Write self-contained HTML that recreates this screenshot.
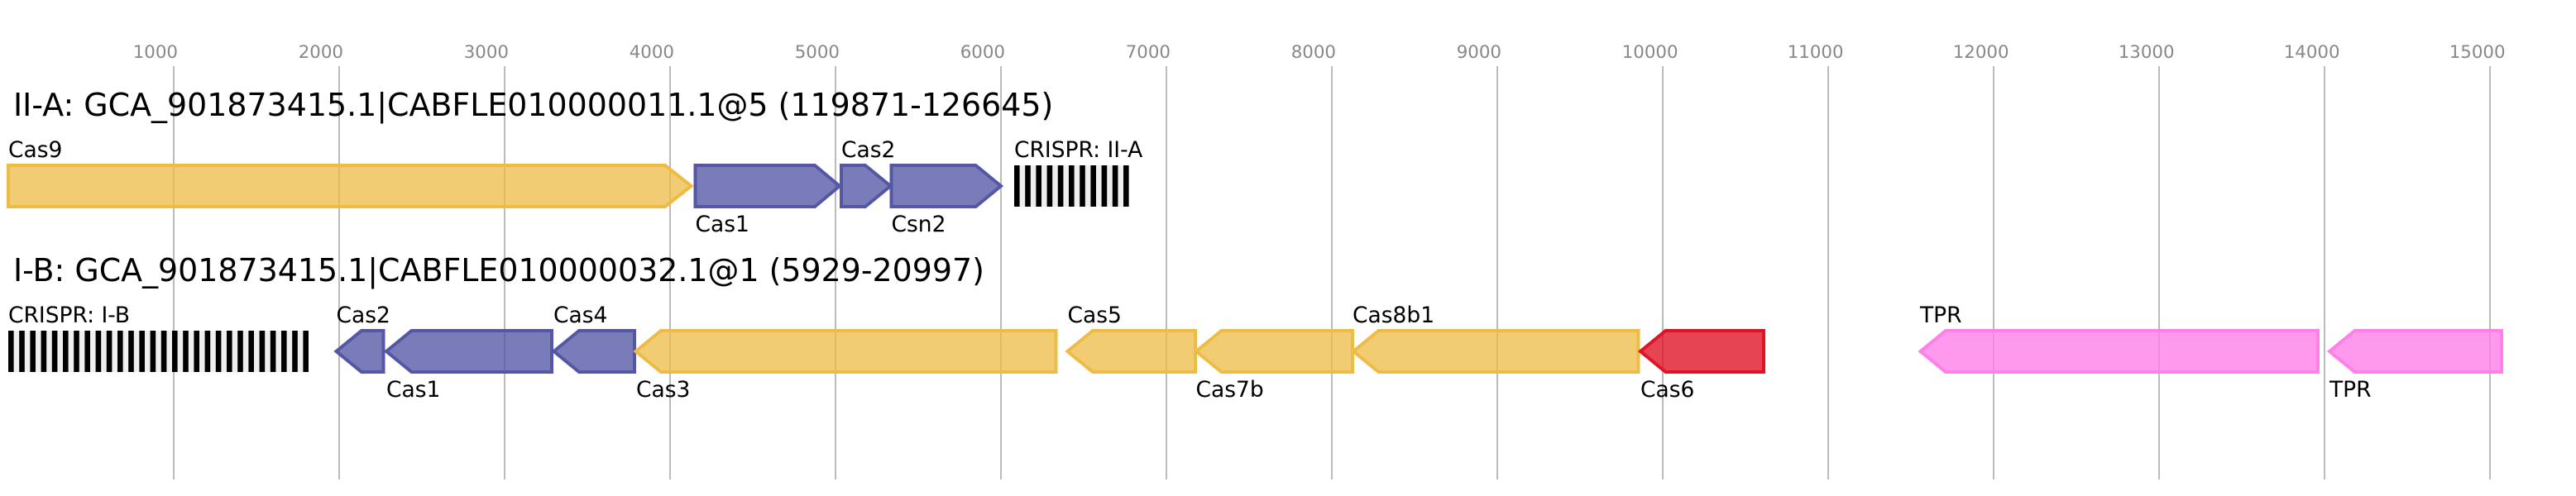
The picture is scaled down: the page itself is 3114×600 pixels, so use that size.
<!DOCTYPE html>
<html>
<head>
<meta charset="utf-8">
<style>
html,body{margin:0;padding:0;background:#fff;width:3114px;height:600px;overflow:hidden}
svg{display:block}
text{font-family:"DejaVu Sans",sans-serif;fill:#000}
.t{font-size:21.33px;fill:#888}
.h{font-size:37.92px}
.l{font-size:26.5px}
.g{stroke:#bbb;stroke-width:2}
.y{fill:#eebb44;fill-opacity:.75;stroke:#eebb44;stroke-width:4}
.b{fill:#5557a5;fill-opacity:.78;stroke:#5557a5;stroke-width:4}
.r{fill:#e01428;fill-opacity:.8;stroke:#e01428;stroke-width:4}
.p{fill:#ff80e8;fill-opacity:.8;stroke:#ff80e8;stroke-width:4}
polygon{stroke-miterlimit:10}
</style>
</head>
<body>
<svg width="3114" height="600" viewBox="0 0 3114 600" xmlns="http://www.w3.org/2000/svg">
<g class="g">
<line x1="210" y1="80" x2="210" y2="580"/><line x1="410" y1="80" x2="410" y2="580"/><line x1="610" y1="80" x2="610" y2="580"/><line x1="810" y1="80" x2="810" y2="580"/><line x1="1010" y1="80" x2="1010" y2="580"/><line x1="1210" y1="80" x2="1210" y2="580"/><line x1="1410" y1="80" x2="1410" y2="580"/><line x1="1610" y1="80" x2="1610" y2="580"/><line x1="1810" y1="80" x2="1810" y2="580"/><line x1="2010" y1="80" x2="2010" y2="580"/><line x1="2210" y1="80" x2="2210" y2="580"/><line x1="2410" y1="80" x2="2410" y2="580"/><line x1="2610" y1="80" x2="2610" y2="580"/><line x1="2810" y1="80" x2="2810" y2="580"/><line x1="3010" y1="80" x2="3010" y2="580"/>
</g>
<g>
<text class="t" x="160.7" y="70">1000</text><text class="t" x="360.7" y="70">2000</text><text class="t" x="560.7" y="70">3000</text><text class="t" x="760.7" y="70">4000</text><text class="t" x="960.7" y="70">5000</text><text class="t" x="1160.7" y="70">6000</text><text class="t" x="1360.7" y="70">7000</text><text class="t" x="1560.7" y="70">8000</text><text class="t" x="1760.7" y="70">9000</text><text class="t" x="1960.7" y="70">10000</text><text class="t" x="2160.7" y="70">11000</text><text class="t" x="2360.7" y="70">12000</text><text class="t" x="2560.7" y="70">13000</text><text class="t" x="2760.7" y="70">14000</text><text class="t" x="2960.7" y="70">15000</text>
</g>
<text class="h" x="16" y="140">II-A: GCA_901873415.1|CABFLE010000011.1@5 (119871-126645)</text>
<text class="h" x="16" y="340">I-B: GCA_901873415.1|CABFLE010000032.1@1 (5929-20997)</text>

<polygon class="y" points="10,200 804,200 835.5,225 804,250 10,250"/>
<polygon class="b" points="840.5,200 985,200 1015,225 985,250 840.5,250"/>
<polygon class="b" points="1017,200 1046,200 1076.5,225 1046,250 1017,250"/>
<polygon class="b" points="1077.5,200 1179.5,200 1210,225 1179.5,250 1077.5,250"/>

<polygon class="b" points="406.5,425 437,400 463.5,400 463.5,450 437,450"/>
<polygon class="b" points="467,425 497.5,400 667,400 667,450 497.5,450"/>
<polygon class="b" points="669.5,425 700,400 767,400 767,450 700,450"/>
<polygon class="y" points="768.5,425 799,400 1276.5,400 1276.5,450 799,450"/>
<polygon class="y" points="1290.5,425 1321,400 1445,400 1445,450 1321,450"/>
<polygon class="y" points="1446,425 1476.5,400 1635,400 1635,450 1476.5,450"/>
<polygon class="y" points="1636,425 1666.5,400 1980.5,400 1980.5,450 1666.5,450"/>
<polygon class="r" points="1983,425 2013.5,400 2132,400 2132,450 2013.5,450"/>
<polygon class="p" points="2321.5,425 2352,400 2802,400 2802,450 2352,450"/>
<polygon class="p" points="2816,425 2846.5,400 3024,400 3024,450 2846.5,450"/>

<rect x="1226" y="200" width="139" height="50" fill="#efefef"/>
<g fill="#000">
<rect x="1226" y="200" width="6.6" height="50"/><rect x="1239.2" y="200" width="6.6" height="50"/><rect x="1252.4" y="200" width="6.6" height="50"/><rect x="1265.6" y="200" width="6.6" height="50"/><rect x="1278.8" y="200" width="6.6" height="50"/><rect x="1292" y="200" width="6.6" height="50"/><rect x="1305.2" y="200" width="6.6" height="50"/><rect x="1318.4" y="200" width="6.6" height="50"/><rect x="1331.6" y="200" width="6.6" height="50"/><rect x="1344.8" y="200" width="6.6" height="50"/><rect x="1358" y="200" width="6.6" height="50"/>
</g>
<rect x="10" y="400" width="362.4" height="50" fill="#efefef"/>
<g fill="#000">
<rect x="10" y="400" width="6.6" height="50"/><rect x="23.2" y="400" width="6.6" height="50"/><rect x="36.4" y="400" width="6.6" height="50"/><rect x="49.6" y="400" width="6.6" height="50"/><rect x="62.8" y="400" width="6.6" height="50"/><rect x="76" y="400" width="6.6" height="50"/><rect x="89.2" y="400" width="6.6" height="50"/><rect x="102.4" y="400" width="6.6" height="50"/><rect x="115.6" y="400" width="6.6" height="50"/><rect x="128.8" y="400" width="6.6" height="50"/><rect x="142" y="400" width="6.6" height="50"/><rect x="155.2" y="400" width="6.6" height="50"/><rect x="168.4" y="400" width="6.6" height="50"/><rect x="181.6" y="400" width="6.6" height="50"/><rect x="194.8" y="400" width="6.6" height="50"/><rect x="208" y="400" width="6.6" height="50"/><rect x="221.2" y="400" width="6.6" height="50"/><rect x="234.4" y="400" width="6.6" height="50"/><rect x="247.6" y="400" width="6.6" height="50"/><rect x="260.8" y="400" width="6.6" height="50"/><rect x="274" y="400" width="6.6" height="50"/><rect x="287.2" y="400" width="6.6" height="50"/><rect x="300.4" y="400" width="6.6" height="50"/><rect x="313.6" y="400" width="6.6" height="50"/><rect x="326.8" y="400" width="6.6" height="50"/><rect x="340" y="400" width="6.6" height="50"/><rect x="353.2" y="400" width="6.6" height="50"/><rect x="366.4" y="400" width="6.6" height="50"/>
</g>

<g class="l">
<text x="10" y="190">Cas9</text>
<text x="840.5" y="280">Cas1</text>
<text x="1017" y="190">Cas2</text>
<text x="1077.5" y="280">Csn2</text>
<text x="1226" y="190">CRISPR: II-A</text>
<text x="10" y="390">CRISPR: I-B</text>
<text x="406.5" y="390">Cas2</text>
<text x="467" y="480">Cas1</text>
<text x="669" y="390">Cas4</text>
<text x="769" y="480">Cas3</text>
<text x="1290.5" y="390">Cas5</text>
<text x="1445.5" y="480">Cas7b</text>
<text x="1635" y="390">Cas8b1</text>
<text x="1983" y="480">Cas6</text>
<text x="2321" y="390">TPR</text>
<text x="2816" y="480">TPR</text>
</g>
</svg>
</body>
</html>
